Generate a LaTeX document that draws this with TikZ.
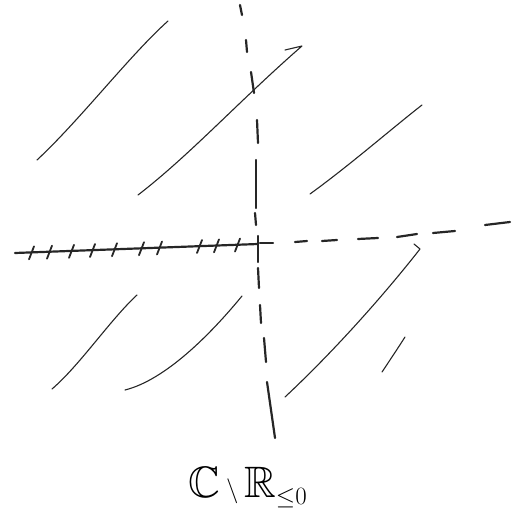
\documentclass[tikz,border=0pt]{standalone}
\usepackage{amssymb}
\begin{document}
\begin{tikzpicture}[x=1pt,y=-1pt,line cap=round,line join=round,
  ink/.style={draw=black!85},
  hatch/.style={ink,line width=1.1pt},
  axis/.style={ink,line width=2.2pt},
  tick/.style={ink,line width=1.8pt}]
\useasboundingbox (0,0) rectangle (516,518);
\coordinate (O) at (258,244);
% vertical dashed axis
\foreach \a/\b in {{240,5}/{242,15},{246,40}/{247,52},{251,72}/{254,93},{257,120}/{258,143},{256,208}/{256,160},{255,213}/{256,225},{258,236}/{258,262},{258,268}/{259,288},{260,305}/{261,323},{264,338}/{266,362},{267,382}/{275,438}}
  \draw[axis] (\a) -- (\b);
% horizontal dashed axis (right)
\foreach \a/\b in {{260,243}/{273,243},{295,242}/{307,241},{322,241}/{337,240},{358,239}/{378,238},{397,237}/{417,234},{433,233}/{455,231},{485,225}/{510,222}}
  \draw[axis] (\a) -- (\b);
% solid negative real axis (slit)
\draw[axis] (15,253) -- (O);
\foreach \x in {32,50,72,93,115,142,160,200,217,238}
  \draw[tick] ({\x-3},{253-(\x-15)*9/238+7}) -- ({\x+2},{253-(\x-15)*9/238-6});
% hatching lines
\draw[hatch] (37,160) .. controls (80,120) and (130,55) .. (168,21);
\draw[hatch] (138,195) .. controls (190,155) and (240,100) .. (302,46) -- (285,50);
\draw[hatch] (310,194) .. controls (350,165) and (390,130) .. (422,105);
\draw[hatch] (285,397) .. controls (330,355) and (380,300) .. (420,249) -- (414,244);
\draw[hatch] (382,372) .. controls (390,360) and (398,348) .. (405,337);
\draw[hatch] (52,389) .. controls (80,365) and (110,320) .. (137,295);
\draw[hatch] (125,390) .. controls (165,380) and (210,335) .. (242,296);
% label
\node[anchor=base,inner sep=0pt] (lbl) at (248,497) {\fontsize{44}{50}\selectfont $\mathbb{C}\setminus\mathbb{R}_{\leq 0}$};
\end{tikzpicture}
\end{document}
